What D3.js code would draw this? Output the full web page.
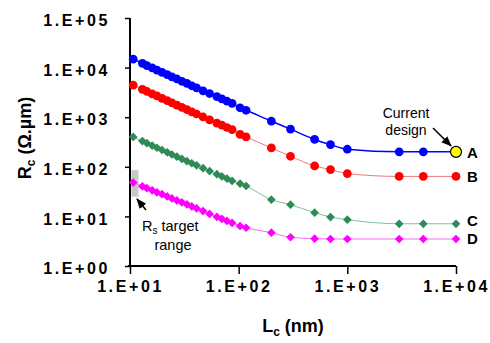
<!DOCTYPE html>
<html>
<head>
<meta charset="utf-8">
<script src="https://cdn.jsdelivr.net/npm/d3@7"></script>
<style>
  body { margin: 0; background: #fff; }
  text { font-family: Arial, "Liberation Sans", sans-serif; }
</style>
</head>
<body>
<svg id="chart" width="490" height="343"></svg>
<script>
// contact length Lc (nm), shared by all four series
var lengths = [10.7, 13, 14.3, 16, 17.7, 19.7, 22, 24.3, 27, 30, 33.4, 37, 41, 47, 54, 63, 70, 78, 87, 103, 117, 200, 300, 500, 700, 1000, 3000, 5000, 10000];

var seriesA = [14800, 12200, 11000, 9900, 8900, 8000, 7200, 6500, 5900, 5300, 4800, 4300, 3900, 3400, 3000, 2600, 2350, 2100, 1900, 1550, 1380, 830, 575, 356, 280, 226, 200, 200, 200];
var seriesB = [4430, 3650, 3300, 2950, 2680, 2400, 2150, 1950, 1750, 1580, 1420, 1280, 1160, 1010, 880, 760, 690, 620, 560, 450, 400, 240, 163, 104, 88, 73, 64, 64, 64];
var seriesC = [400, 330, 300, 268, 242, 218, 196, 177, 160, 144, 130, 118, 107, 94, 82, 71, 64, 58, 52, 46, 41, 21.7, 17.2, 11.9, 9.7, 8.6, 7.1, 7.1, 7.1];
var seriesD = [48, 40.5, 37, 33.5, 30.5, 28, 25.3, 23, 21, 19.2, 17.5, 15.9, 14.5, 12.8, 11.2, 9.8, 8.9, 8.1, 7.4, 6.4, 5.9, 4.7, 3.8, 3.55, 3.5, 3.5, 3.5, 3.5, 3.5];

var seriesNames = ["A", "B", "C", "D"];
var xTicks = [1e1, 1e2, 1e3, 1e4];
var yTicks = [1e0, 1e1, 1e2, 1e3, 1e4, 1e5];
var rsRange = [25, 86]; // Rs target range band at Lc = 10

var svg = d3.select("#chart");

var x = d3.scaleLog().domain([10, 10000]).range([130, 456]);
var y = d3.scaleLog().domain([1, 100000]).range([266, 18]);

var fmtE = function(d) {
  var e = Math.round(Math.log10(d));
  return "1.E+" + (e < 10 ? "0" : "") + e;
};

// Rs target band
svg.append("rect")
    .attr("x", x(10) + 1.5)
    .attr("y", y(rsRange[1]))
    .attr("width", 7)
    .attr("height", y(rsRange[0]) - y(rsRange[1]))
    .attr("fill", "#c8c8c8");

// axes
var yAxis = svg.append("g")
    .attr("transform", "translate(" + x(10) + ",0)")
    .call(d3.axisLeft(y).tickValues(yTicks).tickFormat(fmtE).tickSize(5).tickPadding(15));
var xAxis = svg.append("g")
    .attr("transform", "translate(0," + y(1) + ")")
    .call(d3.axisBottom(x).tickValues(xTicks).tickFormat(fmtE).tickSize(8).tickPadding(7));

[xAxis, yAxis].forEach(function(a) {
  a.select(".domain").attr("stroke", "#000").attr("stroke-width", 2);
  a.selectAll(".tick line").attr("stroke", "#000").attr("stroke-width", 1.5);
  a.selectAll(".tick text")
      .attr("font-size", 16)
      .attr("font-weight", "bold")
      .attr("letter-spacing", "2.6px")
      .attr("fill", "#000");
});
yAxis.selectAll(".tick text").attr("dy", "0.48em");
yAxis.select(".domain").attr("d", "M0," + y(1e5) + "V" + (y(1) + 1));
xAxis.select(".domain").attr("d", "M" + (x(10) - 2) + ",0H" + x(1e4));

// axis titles
var yTitle = svg.append("text")
    .attr("transform", "translate(31,138) rotate(-90)")
    .attr("text-anchor", "middle")
    .attr("font-size", 18)
    .attr("font-weight", "bold");
yTitle.append("tspan").text("R");
yTitle.append("tspan").attr("font-size", 12).attr("dy", 4).text("c");
yTitle.append("tspan").attr("dy", -4).text(" (Ω.µm)");

var xTitle = svg.append("text")
    .attr("x", 293)
    .attr("y", 332)
    .attr("text-anchor", "middle")
    .attr("font-size", 18)
    .attr("font-weight", "bold");
xTitle.append("tspan").text("L");
xTitle.append("tspan").attr("font-size", 12).attr("dy", 4).text("c");
xTitle.append("tspan").attr("dy", -4).text(" (nm)");

var series = [
  { name: "A", values: seriesA, color: "#0000ff", line: "#0000ff", lw: 1.5, shape: "circle", dy: 6 },
  { name: "B", values: seriesB, color: "#ff0000", line: "#f07878", lw: 1, shape: "circle", dy: 6 },
  { name: "C", values: seriesC, color: "#2e8b57", line: "#7fbf9f", lw: 1, shape: "diamond", dy: 2 },
  { name: "D", values: seriesD, color: "#ff00ff", line: "#ff66ff", lw: 1, shape: "diamond", dy: 4.5 }
];

var line = d3.line()
    .x(function(d) { return x(d[0]); })
    .y(function(d) { return y(d[1]); })
    .curve(d3.curveMonotoneX);

var circleSym = d3.symbol().type(d3.symbolCircle).size(60);
var diamondSym = d3.symbol().type(d3.symbolSquare).size(38);

series.forEach(function(s) {
  var pts = lengths.map(function(l, i) { return [l, s.values[i]]; });
  svg.append("path")
      .datum(pts)
      .attr("fill", "none")
      .attr("stroke", s.line)
      .attr("stroke-width", s.lw)
      .attr("d", line);
  svg.append("g").selectAll("path")
    .data(pts)
    .enter().append("path")
      .attr("transform", function(d) {
        return "translate(" + x(d[0]) + "," + y(d[1]) + ")" + (s.shape === "diamond" ? " rotate(45)" : "");
      })
      .attr("d", s.shape === "circle" ? circleSym : diamondSym)
      .attr("fill", s.color);
  var last = pts[pts.length - 1];
  svg.append("text")
      .attr("x", x(last[0]) + 11)
      .attr("y", y(last[1]) + s.dy)
      .attr("font-size", 15)
      .attr("font-weight", "bold")
      .attr("fill", "#000")
      .text(s.name);
});

// current design marker
var cur = [lengths[lengths.length - 1], seriesA[seriesA.length - 1]];
svg.append("circle")
    .attr("cx", x(cur[0]))
    .attr("cy", y(cur[1]))
    .attr("r", 5.5)
    .attr("fill", "#ffff00")
    .attr("stroke", "#000")
    .attr("stroke-width", 1.2);

svg.append("defs").append("marker")
    .attr("id", "arr")
    .attr("viewBox", "0 0 10 10")
    .attr("refX", 9).attr("refY", 5)
    .attr("markerWidth", 7).attr("markerHeight", 7)
    .attr("orient", "auto")
  .append("path")
    .attr("d", "M0,1L10,5L0,9Z")
    .attr("fill", "#000");

svg.append("text")
    .attr("x", 406).attr("y", 118)
    .attr("text-anchor", "middle").attr("font-size", 14)
    .text("Current");
svg.append("text")
    .attr("x", 406).attr("y", 135)
    .attr("text-anchor", "middle").attr("font-size", 14)
    .text("design");
svg.append("line")
    .attr("x1", 433).attr("y1", 128)
    .attr("x2", x(cur[0]) - 5).attr("y2", y(cur[1]) - 6)
    .attr("stroke", "#000").attr("stroke-width", 1.5)
    .attr("marker-end", "url(#arr)");

// Rs target range annotation
svg.append("line")
    .attr("x1", 146).attr("y1", 210)
    .attr("x2", 137).attr("y2", 199)
    .attr("stroke", "#000").attr("stroke-width", 1.5)
    .attr("marker-end", "url(#arr)");
var rs = svg.append("text")
    .attr("x", 142).attr("y", 231)
    .attr("font-size", 14.5);
rs.append("tspan").text("R");
rs.append("tspan").attr("font-size", 10).attr("dy", 3).text("s");
rs.append("tspan").attr("dy", -3).text(" target");
svg.append("text")
    .attr("x", 173).attr("y", 250)
    .attr("text-anchor", "middle")
    .attr("font-size", 14.5)
    .text("range");
</script>
</body>
</html>
